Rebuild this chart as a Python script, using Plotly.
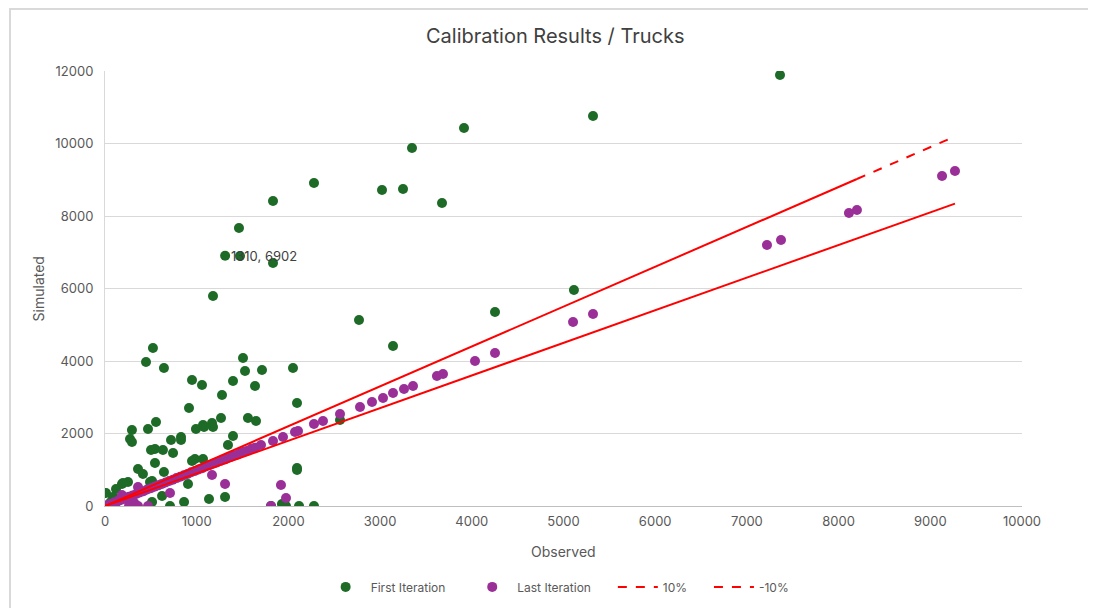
import plotly.graph_objects as go

# ---------------- data ----------------
green_x = [7361, 5322, 3915, 3348, 2279, 3250, 3021, 3675, 1832, 1461, 1310, 1472, 1832, 1178, 5114, 4253, 2770, 3141,
           523, 447, 643, 949, 1058, 1276, 916, 556, 1265, 1069, 1167,
           1505, 1527, 1712, 2050, 1396, 1636, 2094, 1559, 1647,
           294, 469, 273, 294, 720, 829, 829, 992, 1080, 1178, 1396, 1341, 502, 545, 632, 742, 545, 949, 981, 1069,
           360, 414, 643, 513, 251, 185, 120, 11, 622, 905, 1309, 1134, 862, 709, 513, 2094, 2094, 1930, 1974,
           2116, 2279, 2563, 30, 87, 1810, 196, 491, 0, 60]
green_y = [11890, 10759, 10428, 9876, 8910, 8745, 8717, 8359, 8414, 7669, 6902, 6897, 6703, 5793, 5959, 5352, 5131, 4414,
           4359, 3972, 3807, 3476, 3338, 3062, 2703, 2317, 2428, 2234, 2290,
           4083, 3724, 3752, 3807, 3448, 3310, 2841, 2428, 2345,
           2097, 2124, 1848, 1766, 1821, 1903, 1821, 2124, 2179, 2179, 1931, 1683, 1545, 1572, 1545, 1462, 1186, 1241, 1297, 1297,
           1021, 883, 938, 690, 662, 607, 469, 359, 276, 607, 248, 193, 110, 0, 110, 1048, 993, 55, 0,
           0, 0, 2372, 0, 248, 0, 634, 662, 0, 100]

purple_x = [9269, 9128, 8200, 8113, 7372, 7219, 5322, 5104, 4253, 4035, 3686, 3620, 3359, 3261, 3141, 3032, 2912, 2781,
            2563, 2377, 2279, 2105, 2072, 1941, 1832, 1701,
            1640, 1600, 1560, 1520, 1480, 1450, 1410, 1370, 1330, 1300, 1260, 1220, 1180, 1140, 1100, 1060, 1020, 980,
            940, 900, 860, 820, 780, 740, 700, 660, 620, 580, 540, 500, 460, 420, 380, 340, 300, 260, 220, 180, 140,
            100, 60, 20,
            1309, 1919, 1974, 1810, 709, 1167, 360, 469, 360, 262, 0, 109, 185, 284, 150, 320]
purple_y = [9241, 9103, 8166, 8083, 7338, 7200, 5297, 5076, 4221, 4000, 3641, 3586, 3310, 3228, 3117, 2979, 2869, 2731,
            2538, 2345, 2262, 2069, 2041, 1903, 1793, 1683,
            1610, 1585, 1530, 1500, 1470, 1420, 1395, 1350, 1310, 1280, 1245, 1200, 1165, 1125, 1090, 1040, 1005, 965,
            930, 885, 850, 805, 770, 725, 690, 650, 610, 570, 530, 490, 455, 410, 375, 330, 290, 255, 210, 175, 135,
            95, 55, 20,
            607, 579, 220, 0, 359, 855, 524, 0, 0, 0, 0, 0, 303, 248, 150, 80]

# observed values spanned by the +/-10% bands (solid part and dashed tail of +10%)
band_x_solid = [0, 8200]
band_x_tail = [8200, 9269]
band_x_minus = [0, 9269]
plus_factor = 1.1
minus_factor = 0.9

x_ticks = list(range(0, 10001, 1000))
y_ticks = list(range(0, 12001, 2000))

label_point = (1310, 6902)

GREEN = "#1d6b27"
PURPLE = "#9b2f98"
RED = "#ff0000"
FONT = "Inter"
TXT = "#595959"
NB = "\u00a0"

fig = go.Figure()

fig.add_trace(go.Scatter(x=green_x, y=green_y, mode="markers", name="First Iteration" + NB * 5,
                         marker=dict(color=GREEN, size=10, line=dict(width=0))))
fig.add_trace(go.Scatter(x=purple_x, y=purple_y, mode="markers", name="Last Iteration" + NB * 5,
                         marker=dict(color=PURPLE, size=10, line=dict(width=0))))

# +10% band
fig.add_trace(go.Scatter(x=band_x_solid, y=[v * plus_factor for v in band_x_solid], mode="lines",
                         line=dict(color=RED, width=2), showlegend=False, name="10%"))
fig.add_trace(go.Scatter(x=band_x_tail, y=[v * plus_factor for v in band_x_tail], mode="lines",
                         line=dict(color=RED, width=2, dash="dash"), showlegend=False, name="10%"))
# -10% band
fig.add_trace(go.Scatter(x=band_x_minus, y=[v * minus_factor for v in band_x_minus], mode="lines",
                         line=dict(color=RED, width=2), showlegend=False, name="-10%"))

# legend entries
fig.add_trace(go.Scatter(x=[None], y=[None], mode="lines", name="10%" + NB * 5,
                         line=dict(color=RED, width=2, dash="dash")))
fig.add_trace(go.Scatter(x=[None], y=[None], mode="lines", name="-10%",
                         line=dict(color=RED, width=2, dash="dash")))

fig.add_annotation(x=label_point[0], y=label_point[1], text=f"{label_point[0]}, {label_point[1]}",
                   showarrow=False, xanchor="left", yanchor="middle", xshift=4,
                   font=dict(family=FONT, size=13, color="#404040"))

# axis titles as annotations
fig.add_annotation(x=0.5, y=-0.104, xref="paper", yref="paper", text="Observed", showarrow=False,
                   xanchor="center", yanchor="middle", font=dict(family=FONT, size=14, color=TXT))
fig.add_annotation(x=-0.073, y=0.498, xref="paper", yref="paper", text="Simulated", showarrow=False,
                   textangle=-90, xanchor="center", yanchor="middle", font=dict(family=FONT, size=14, color=TXT))

# outer chart border
fig.add_shape(type="rect", xref="paper", yref="paper", x0=-0.1036, y0=-0.4, x1=1.2, y1=1.1425,
              line=dict(color="#d9d9d9", width=2), layer="below")

fig.update_layout(
    width=1088, height=640,
    margin=dict(l=97, r=74, t=63, b=142),
    paper_bgcolor="white", plot_bgcolor="white",
    title=dict(text="Calibration Results / Trucks", x=0.503, xanchor="center", y=0.956, yanchor="middle",
               font=dict(family=FONT, size=20, color="#404040")),
    font=dict(family=FONT, size=13, color=TXT),
    showlegend=True,
    legend=dict(orientation="h", x=0.4936, xanchor="center", y=-0.186, yanchor="middle",
                font=dict(family=FONT, size=12, color=TXT), itemwidth=40, traceorder="normal"),
    xaxis=dict(range=[0, 10000], tickvals=x_ticks, ticktext=[str(v) for v in x_ticks], showgrid=False,
               zeroline=False, showline=True, linecolor="#bfbfbf", linewidth=1, ticks="",
               ticklabelstandoff=3, tickfont=dict(size=13, color=TXT)),
    yaxis=dict(range=[0, 12000], tickvals=y_ticks, ticktext=[str(v) for v in y_ticks], showgrid=True,
               gridcolor="#d9d9d9", gridwidth=1, zeroline=False, showline=True, linecolor="#d9d9d9",
               linewidth=1, ticks="", ticklabelstandoff=8, tickfont=dict(size=13, color=TXT)),
)

fig.write_html("out.html")
